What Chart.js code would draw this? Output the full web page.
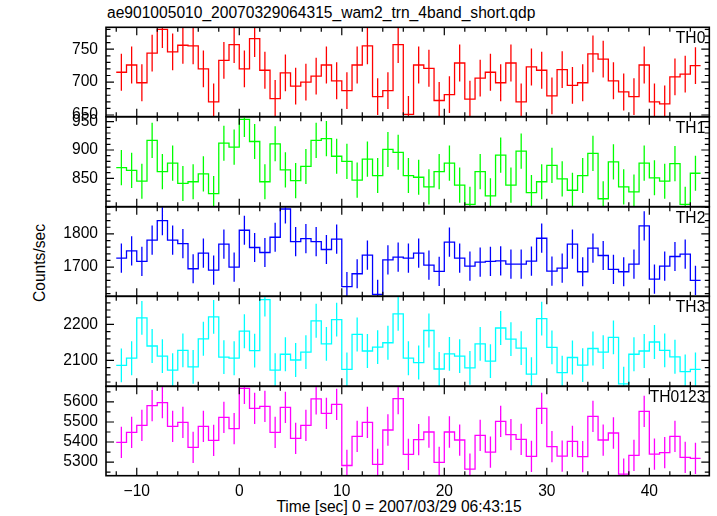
<!DOCTYPE html>
<html><head><meta charset="utf-8">
<script src="https://cdn.jsdelivr.net/npm/chart.js@4.4.1/dist/chart.umd.min.js"></script>
<style>
html,body{margin:0;padding:0;background:#fff;}
#wrap{position:relative;width:717px;height:516px;overflow:hidden;background:#fff;font-family:"Liberation Sans",Arial,sans-serif;}
#wrap canvas{position:absolute;left:0;}
.txt{position:absolute;white-space:nowrap;color:#000;font-size:15.6px;line-height:16px;}
</style></head><body>
<div id="wrap">
<div class="txt" style="left:107px;top:5px;">ae901005010_20070329064315_wam2_trn_4band_short.qdp</div>
<div class="txt" style="left:40px;top:263px;transform:translate(-50%,-50%) rotate(-90deg);">Counts/sec</div>
<div class="txt" style="left:399px;top:499px;transform:translateX(-50%);">Time [sec] 0 = 2007/03/29 06:43:15</div>
</div>
<script>
// ---- data ----
const binStart = [-12,-11,-10,-9,-8,-7,-6,-5,-4,-3,-2,-1,0,1,2,3,4,5,6,7,8,9,10,11,12,13,14,15,16,17,18,19,20,21,22,23,24,25,26,27,28,29,30,31,32,33,34,35,36,37,38,39,40,41,42,43,44];
const binWidth = 1;
const bandNames = ["TH0","TH1","TH2","TH3","TH0123"];
const th0 = [715,726,699,744,780,746,756,755,720,670,733,757,720,766,718,675,714,694,700,709,726,702,687,726,755,678,687,757,651,726,721,672,681,729,674,706,715,699,729,670,723,718,679,719,695,699,743,735,702,685,678,726,670,667,708,712,725];
const th1 = [869,864,845,917,862,877,841,844,858,823,912,905,954,915,844,911,865,846,871,917,920,889,880,847,884,855,901,896,855,852,835,862,877,838,804,862,819,891,838,898,825,844,873,849,829,855,894,814,879,835,826,877,851,845,876,804,859];
const th2 = [1727,1749,1717,1781,1840,1781,1771,1695,1742,1691,1769,1700,1811,1759,1744,1790,1875,1777,1786,1777,1753,1784,1641,1680,1736,1618,1722,1730,1727,1742,1706,1687,1775,1727,1703,1715,1717,1719,1709,1709,1718,1787,1688,1697,1769,1686,1757,1735,1693,1686,1709,1824,1664,1703,1732,1739,1660];
const th3 = [2086,2106,2218,2140,2112,2073,2128,2082,2160,2221,2109,2106,2181,2127,2269,2073,2117,2101,2123,2210,2146,2213,2075,2172,2126,2137,2149,2229,2106,2094,2183,2076,2118,2112,2079,2146,2098,2190,2159,2134,2062,2216,2136,2066,2108,2087,2133,2123,2164,2035,2117,2126,2151,2128,2110,2069,2075];
const th0123 = [5398,5448,5483,5582,5597,5478,5498,5373,5478,5408,5523,5467,5668,5568,5578,5448,5573,5418,5483,5615,5543,5588,5283,5428,5498,5288,5460,5617,5338,5412,5450,5298,5450,5410,5265,5433,5350,5503,5437,5413,5328,5568,5377,5330,5403,5327,5528,5410,5445,5240,5333,5553,5340,5347,5428,5323,5318];
const bandErr = [28, 31, 44, 47, 78];
const yMin = [647.4, 800, 1612, 2028, 5232];
const yMax = [783.3, 958.8, 1882, 2278, 5678];
const yTickValues = [[650,700,750],[850,900,950],[1700,1800],[2100,2200],[5300,5400,5500,5600]];
const yMajorStep = [50, 50, 100, 100, 100];
const yMinorStep = [10, 10, 20, 20, 50];
const xTickValues = [-10, 0, 10, 20, 30, 40];
const xTickLabels = ["\u221210", "0", "10", "20", "30", "40"];
const xMin = -13.0, xMax = 45.85;

// ---- style / layout ----
const bandData = [th0, th1, th2, th3, th0123];
const bandColor = ["#ff0000", "#00ff00", "#0000ff", "#00ffff", "#ff00ff"];
const panelTops = [27.3, 116.7, 206.7, 296.3, 386.3];
const panelBottoms = [116.7, 206.7, 296.3, 386.3, 475.7];
const plotLeft = 106, plotRight = 709.3, pageW = 717, pageH = 516, pad = 24;
const FONT = {family: '"Liberation Sans", Arial, sans-serif', size: 15.6};
const wrap = document.getElementById('wrap');

function makePanel(i) {
  const last = (i === bandData.length - 1);
  const cTop = Math.floor(panelTops[i]) - pad;
  const cBottom = last ? pageH : Math.ceil(panelBottoms[i]) + pad;
  const h = cBottom - cTop;
  const canvas = document.createElement('canvas');
  canvas.width = pageW; canvas.height = h;
  canvas.style.top = cTop + 'px';
  canvas.style.width = pageW + 'px'; canvas.style.height = h + 'px';
  wrap.appendChild(canvas);
  const padTop = panelTops[i] - cTop;
  const padBottom = last ? 0 : cBottom - panelBottoms[i];
  const xAxisH = last ? pageH - panelBottoms[i] : 0;

  const vals = bandData[i];
  const stepPts = binStart.map((s, k) => ({x: s, y: vals[k]}));
  stepPts.push({x: binStart[binStart.length - 1] + binWidth, y: vals[vals.length - 1]});

  const errPlugin = {
    id: 'errbars' + i,
    afterDatasetsDraw(chart) {
      const ctx = chart.ctx, xs = chart.scales.x, ys = chart.scales.y, a = chart.chartArea;
      ctx.save();
      ctx.beginPath(); ctx.rect(a.left, a.top, a.right - a.left, a.bottom - a.top); ctx.clip();
      ctx.strokeStyle = bandColor[i]; ctx.lineWidth = 1.3;
      ctx.beginPath();
      binStart.forEach((s, k) => {
        const cx = xs.getPixelForValue(s + binWidth / 2);
        ctx.moveTo(cx, ys.getPixelForValue(vals[k] - bandErr[i]));
        ctx.lineTo(cx, ys.getPixelForValue(vals[k] + bandErr[i]));
      });
      ctx.stroke();
      ctx.restore();
    }
  };
  const framePlugin = {
    id: 'frame' + i,
    afterDraw(chart) {
      const ctx = chart.ctx, xs = chart.scales.x, ys = chart.scales.y, a = chart.chartArea;
      ctx.save();
      ctx.strokeStyle = '#000'; ctx.lineWidth = 1.2;
      ctx.beginPath();
      for (let v = Math.ceil(xMin / 2) * 2; v <= xMax; v += 2) {
        const px = xs.getPixelForValue(v);
        const L = (v % 10 === 0) ? 8 : 4.5;
        ctx.moveTo(px, a.bottom); ctx.lineTo(px, a.bottom - L);
        ctx.moveTo(px, a.top); ctx.lineTo(px, a.top + L);
      }
      const mn = yMinorStep[i], mj = yMajorStep[i];
      for (let v = Math.ceil(yMin[i] / mn) * mn; v <= yMax[i]; v += mn) {
        const py = ys.getPixelForValue(v);
        const L = (v % mj === 0) ? 8 : 4.5;
        ctx.moveTo(a.left, py); ctx.lineTo(a.left + L, py);
        ctx.moveTo(a.right, py); ctx.lineTo(a.right - L, py);
      }
      ctx.stroke();
      ctx.lineWidth = 1.6;
      ctx.strokeRect(a.left, a.top, a.right - a.left, a.bottom - a.top);
      ctx.fillStyle = '#000';
      ctx.font = FONT.size + 'px ' + FONT.family;
      ctx.textAlign = 'right'; ctx.textBaseline = 'alphabetic';
      ctx.fillText(bandNames[i], a.right - 4, a.top + 16);
      ctx.restore();
    }
  };

  new Chart(canvas, {
    type: 'line',
    data: {datasets: [{
      data: stepPts, stepped: 'before', borderColor: bandColor[i], borderWidth: 1.3,
      pointRadius: 0, fill: false, tension: 0
    }]},
    options: {
      responsive: false, animation: false, devicePixelRatio: 1,
      layout: {padding: {top: padTop, bottom: padBottom, left: 0, right: pageW - plotRight}},
      plugins: {legend: {display: false}, tooltip: {enabled: false}, title: {display: false}},
      scales: {
        x: {
          type: 'linear', min: xMin, max: xMax, display: last,
          grid: {display: false, drawTicks: false}, border: {display: false},
          afterBuildTicks: s => { s.ticks = xTickValues.map(v => ({value: v})); },
          afterFit: s => { if (last) s.height = xAxisH; },
          ticks: {
            autoSkip: false, maxRotation: 0, padding: 7, color: '#000', font: FONT,
            callback: v => xTickLabels[xTickValues.indexOf(v)]
          }
        },
        y: {
          type: 'linear', min: yMin[i], max: yMax[i],
          grid: {display: false, drawTicks: false}, border: {display: false},
          afterBuildTicks: s => { s.ticks = yTickValues[i].map(v => ({value: v})); },
          afterFit: s => { s.width = plotLeft; },
          ticks: {autoSkip: false, padding: 8, color: '#000', font: FONT, callback: v => String(v)}
        }
      }
    },
    plugins: [errPlugin, framePlugin]
  });
}
bandData.forEach((_, i) => makePanel(i));
</script>
</body></html>
